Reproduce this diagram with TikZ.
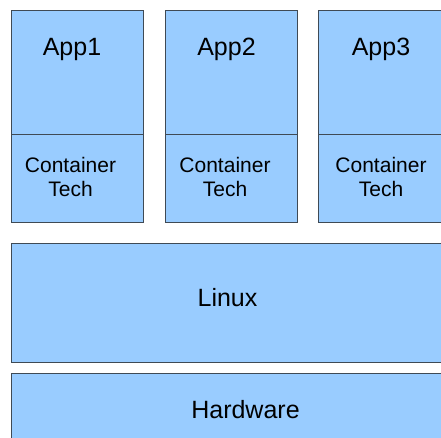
\documentclass[tikz,border=0pt]{standalone}
\usepackage{fontspec}
\setmainfont{Liberation Sans}
\definecolor{boxfill}{HTML}{99CCFF}
\definecolor{boxline}{HTML}{3F4A55}
\begin{document}
\begin{tikzpicture}[x=1pt,y=-1pt,
  layer/.style={draw=boxline, fill=boxfill, line width=1.1pt, inner sep=0pt, anchor=north west},
  big/.style={font=\fontsize{25}{29}\selectfont, inner sep=0pt, anchor=base},
  small/.style={font=\fontsize{21}{24}\selectfont, inner sep=0pt, align=center, anchor=center}]
\useasboundingbox (0,0) rectangle (441,437);
% application boxes
\node[layer, minimum width=132pt, minimum height=124pt] (a1) at (11,10) {};
\node[layer, minimum width=132pt, minimum height=124pt] (a2) at (164.5,10) {};
\node[layer, minimum width=132pt, minimum height=124pt] (a3) at (318,10) {};
% container boxes
\node[layer, minimum width=132pt, minimum height=88pt] (c1) at (11,134) {};
\node[layer, minimum width=132pt, minimum height=88pt] (c2) at (164.5,134) {};
\node[layer, minimum width=132pt, minimum height=88pt] (c3) at (318,134) {};
% linux and hardware
\node[layer, minimum width=440pt, minimum height=119pt] (lx) at (11,243) {};
\node[layer, minimum width=440pt, minimum height=80pt] (hw) at (11,373) {};
% labels
\node[big] (t1) at (72,55) {App1};
\node[big] (t2) at (226.5,55) {App2};
\node[big] (t3) at (381,55) {App3};
\node[small] (k1) at (70.5,176.5) {Container\\Tech};
\node[small] (k2) at (225,176.5) {Container\\Tech};
\node[small] (k3) at (381,176.5) {Container\\Tech};
\node[big] (tl) at (227.5,306) {Linux};
\node[big] (th) at (245.5,418) {Hardware};
\end{tikzpicture}
\end{document}
